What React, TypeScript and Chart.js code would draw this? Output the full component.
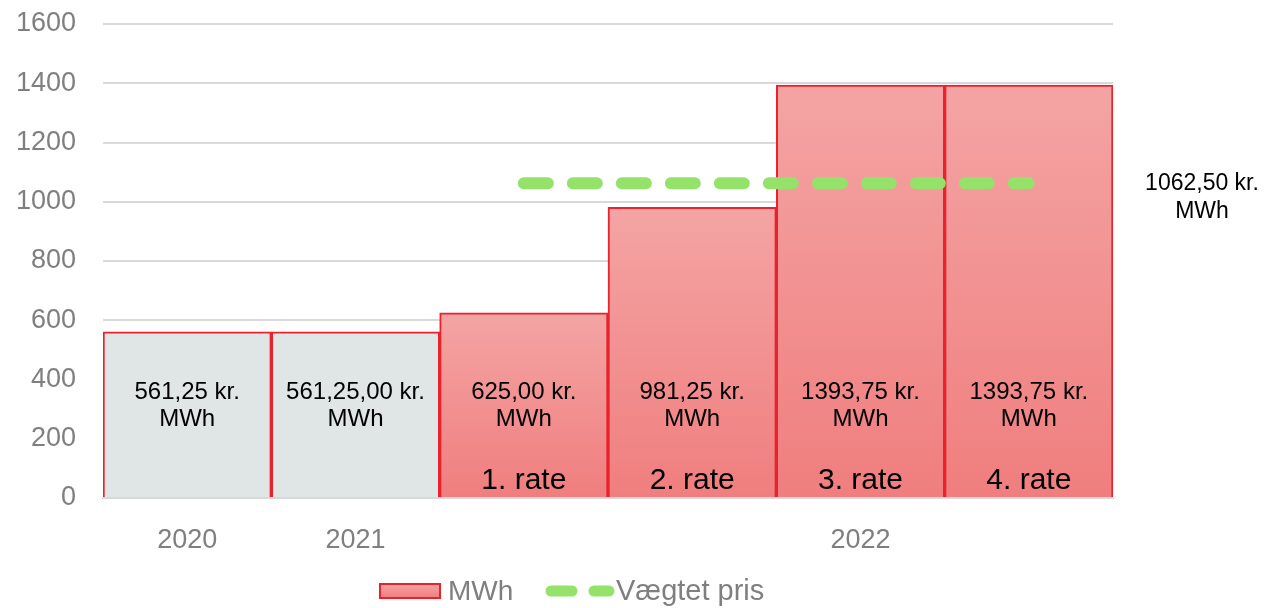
import React, { useEffect, useRef } from "react";
import { Chart, registerables } from "chart.js";

Chart.register(...registerables);

// ---- Data ----
const categories = ["2020", "2021", "", "", "2022", ""];
const mwhValues = [561.25, 561.25, 625, 981.25, 1393.75, 1393.75];
const weightedPrice: (number | null)[] = [null, null, 1062.5, 1062.5, 1062.5, 1062.5];
const priceLabels = ["561,25 kr.", "561,25,00 kr.", "625,00 kr.", "981,25 kr.", "1393,75 kr.", "1393,75 kr."];
const unitLabel = "MWh";
const rateLabels = ["", "", "1. rate", "2. rate", "3. rate", "4. rate"];
const historic = [true, true, false, false, false, false];
const weightedLabel = ["1062,50 kr.", "MWh"];
const seriesNames = ["MWh", "Vægtet pris"];

const FONT = "'Liberation Sans', Arial, sans-serif";
const GRAY_TEXT = "#7f7f7f";
const GRID = "#d9d9d9";
const RED = "#e8232d";
const GREEN = "#94e26a";
const HIST_FILL = "#e0e6e6";
const TOP_PINK = "#f4a4a4";
const BOTTOM_PINK = "#f07e7e";

function pinkGradient(ctx: CanvasRenderingContext2D, top: number, bottom: number) {
  const g = ctx.createLinearGradient(0, top, 0, bottom);
  g.addColorStop(0, TOP_PINK);
  g.addColorStop(1, BOTTOM_PINK);
  return g;
}

const overlayPlugin = {
  id: "overlay",
  afterDatasetsDraw(chart: any) {
    const { ctx, chartArea, scales } = chart;
    const meta = chart.getDatasetMeta(1);
    const y = scales.y;
    ctx.save();
    ctx.textAlign = "center";
    ctx.textBaseline = "middle";
    ctx.fillStyle = "#000";
    meta.data.forEach((bar: any, i: number) => {
      const x = bar.x;
      ctx.font = `24px ${FONT}`;
      const ty = y.getPixelForValue(362) + 2;
      ctx.fillText(priceLabels[i], x, ty);
      ctx.fillText(unitLabel, x, ty + 27);
      if (rateLabels[i]) {
        ctx.font = `30px ${FONT}`;
        ctx.fillText(rateLabels[i], x, chartArea.bottom - 17);
      }
    });
    // right-side weighted price label
    ctx.font = `23px ${FONT}`;
    const ly = y.getPixelForValue(1062.5);
    ctx.fillText(weightedLabel[0], chartArea.right + 89, ly);
    ctx.fillText(weightedLabel[1], chartArea.right + 89, ly + 28);

    // custom legend
    const lx = 380;
    const lyc = 591;
    ctx.fillStyle = pinkGradient(ctx, lyc - 7, lyc + 7);
    ctx.fillRect(lx, lyc - 7, 60, 14);
    ctx.strokeStyle = RED;
    ctx.lineWidth = 2;
    ctx.strokeRect(lx, lyc - 7, 60, 14);
    ctx.fillStyle = GRAY_TEXT;
    ctx.font = `28px ${FONT}`;
    ctx.textAlign = "left";
    ctx.fillText(seriesNames[0], lx + 68, lyc + 1);

    ctx.strokeStyle = GREEN;
    ctx.lineWidth = 11;
    ctx.lineCap = "round";
    ctx.beginPath();
    ctx.moveTo(551, lyc);
    ctx.lineTo(572, lyc);
    ctx.moveTo(594, lyc);
    ctx.lineTo(609, lyc);
    ctx.stroke();
    ctx.font = `29px ${FONT}`;
    ctx.fillText(seriesNames[1], 616, lyc + 1);
    ctx.restore();
  },
};

export default function App() {
  const canvasRef = useRef<HTMLCanvasElement | null>(null);

  useEffect(() => {
    document.body.style.margin = "0";
    const canvas = canvasRef.current;
    if (!canvas) return;
    const chart = new Chart(canvas, {
      type: "bar",
      data: {
        labels: categories,
        datasets: [
          {
            type: "line",
            label: seriesNames[1],
            data: weightedPrice,
            borderColor: GREEN,
            borderWidth: 12,
            borderDash: [24, 25],
            borderCapStyle: "round",
            pointRadius: 0,
            pointHoverRadius: 0,
            fill: false,
            tension: 0,
            spanGaps: false,
            order: 0,
          } as any,
          {
            type: "bar",
            label: seriesNames[0],
            data: mwhValues,
            barPercentage: 1,
            categoryPercentage: 1,
            borderColor: RED,
            borderWidth: 2,
            borderSkipped: "start",
            order: 1,
            backgroundColor: (c: any) => {
              const i = c.dataIndex;
              if (historic[i]) return HIST_FILL;
              const chart = c.chart;
              const area = chart.chartArea;
              if (!area || !chart.scales.y) return TOP_PINK;
              const top = chart.scales.y.getPixelForValue(mwhValues[i]);
              return pinkGradient(chart.ctx, top, area.bottom);
            },
          } as any,
        ],
      },
      options: {
        animation: false,
        responsive: true,
        maintainAspectRatio: false,
        layout: { padding: { left: 0, right: 152, top: 24, bottom: 0 } },
        plugins: {
          legend: { display: false },
          tooltip: { enabled: false },
        },
        scales: {
          x: {
            grid: { display: false, drawTicks: false },
            border: { display: true, color: GRID, width: 2 },
            ticks: {
              color: GRAY_TEXT,
              font: { family: FONT, size: 27 },
              padding: 26,
              maxRotation: 0,
              autoSkip: false,
            },
            afterFit: (s: any) => {
              s.height = 110;
            },
          },
          y: {
            min: 0,
            max: 1600,
            ticks: {
              stepSize: 200,
              color: GRAY_TEXT,
              font: { family: FONT, size: 27 },
              padding: 27,
              callback: (v: any) => String(v),
            },
            grid: { color: GRID, lineWidth: 2, drawTicks: false },
            border: { display: false },
            afterFit: (s: any) => {
              s.width = 103;
              s.paddingTop = 0;
              s.paddingBottom = 0;
            },
          },
        },
      },
      plugins: [overlayPlugin],
    });
    return () => chart.destroy();
  }, []);

  return (
    <div style={{ position: "absolute", left: 0, top: 0, width: 1265, height: 608 }}>
      <canvas ref={canvasRef} />
    </div>
  );
}
